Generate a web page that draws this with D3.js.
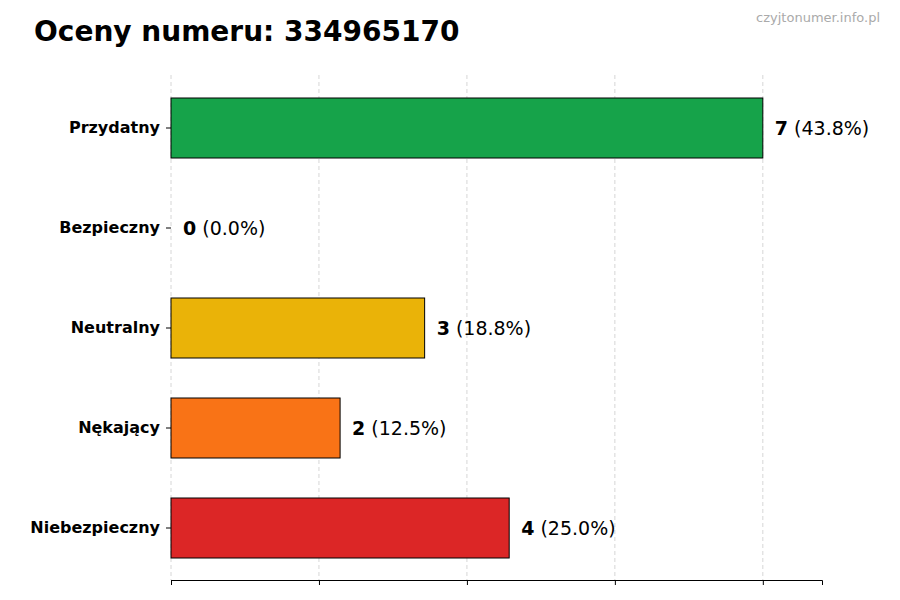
<!DOCTYPE html>
<html><head><meta charset="utf-8">
<script src="https://cdn.jsdelivr.net/npm/d3@7"></script>
<style>body{margin:0;background:#fff}svg{font-family:"DejaVu Sans",sans-serif}</style>
</head><body><svg width="900" height="600"></svg>
<script>
const categories=["Przydatny","Bezpieczny","Neutralny","Nękający","Niebezpieczny"];
const values=[7,0,3,2,4];
const percents=["43.8%","0.0%","18.8%","12.5%","25.0%"];
const colors=["#16a34a","#6b7280","#eab308","#f97316","#dc2626"];
const xTicks=[0,1.75,3.5,5.25,7];
const svg=d3.select("svg");
const x=d3.scaleLinear().domain([0,7.7]).range([171,822]);
const y=d3.scaleBand().domain(categories).range([78,578]).paddingInner(0.4).paddingOuter(0.2);
svg.append("g").selectAll("line").data(xTicks).join("line")
 .attr("x1",d=>x(d)).attr("x2",d=>x(d)).attr("y1",75).attr("y2",580)
 .attr("stroke","#ccc").attr("stroke-dasharray","4,3").attr("stroke-width",0.8);
svg.append("g").attr("transform","translate(0,580)")
 .call(d3.axisBottom(x).tickValues(xTicks).tickFormat("").tickSize(5))
 .call(g=>g.select(".domain").attr("stroke","#000"));
svg.append("g").attr("transform","translate(171,0)")
 .call(d3.axisLeft(y).tickSize(5).tickPadding(6))
 .call(g=>g.select(".domain").remove())
 .call(g=>g.selectAll("text").attr("font-size",16).attr("font-weight","bold").attr("fill","#000").attr("font-family","DejaVu Sans"));
svg.append("g").selectAll("rect").data(categories).join("rect")
 .attr("x",x(0)).attr("y",d=>y(d)).attr("height",y.bandwidth())
 .attr("width",(d,i)=>x(values[i])-x(0)).attr("fill",(d,i)=>colors[i])
 .attr("stroke","#000").attr("stroke-width",1);
const lab=svg.append("g").selectAll("text").data(categories).join("text")
 .attr("x",(d,i)=>x(values[i])+12).attr("y",d=>y(d)+y.bandwidth()/2)
 .attr("dy","0.35em").attr("font-size",19);
lab.append("tspan").attr("font-weight","bold").text((d,i)=>values[i]);
lab.append("tspan").text((d,i)=>" ("+percents[i]+")");
svg.append("text").attr("x",34).attr("y",41).attr("font-size",28).attr("font-weight","bold").text("Oceny numeru: 334965170");
svg.append("text").attr("x",880).attr("y",22).attr("text-anchor","end").attr("font-size",13).attr("fill","#aaa").text("czyjtonumer.info.pl");
</script></body></html>
